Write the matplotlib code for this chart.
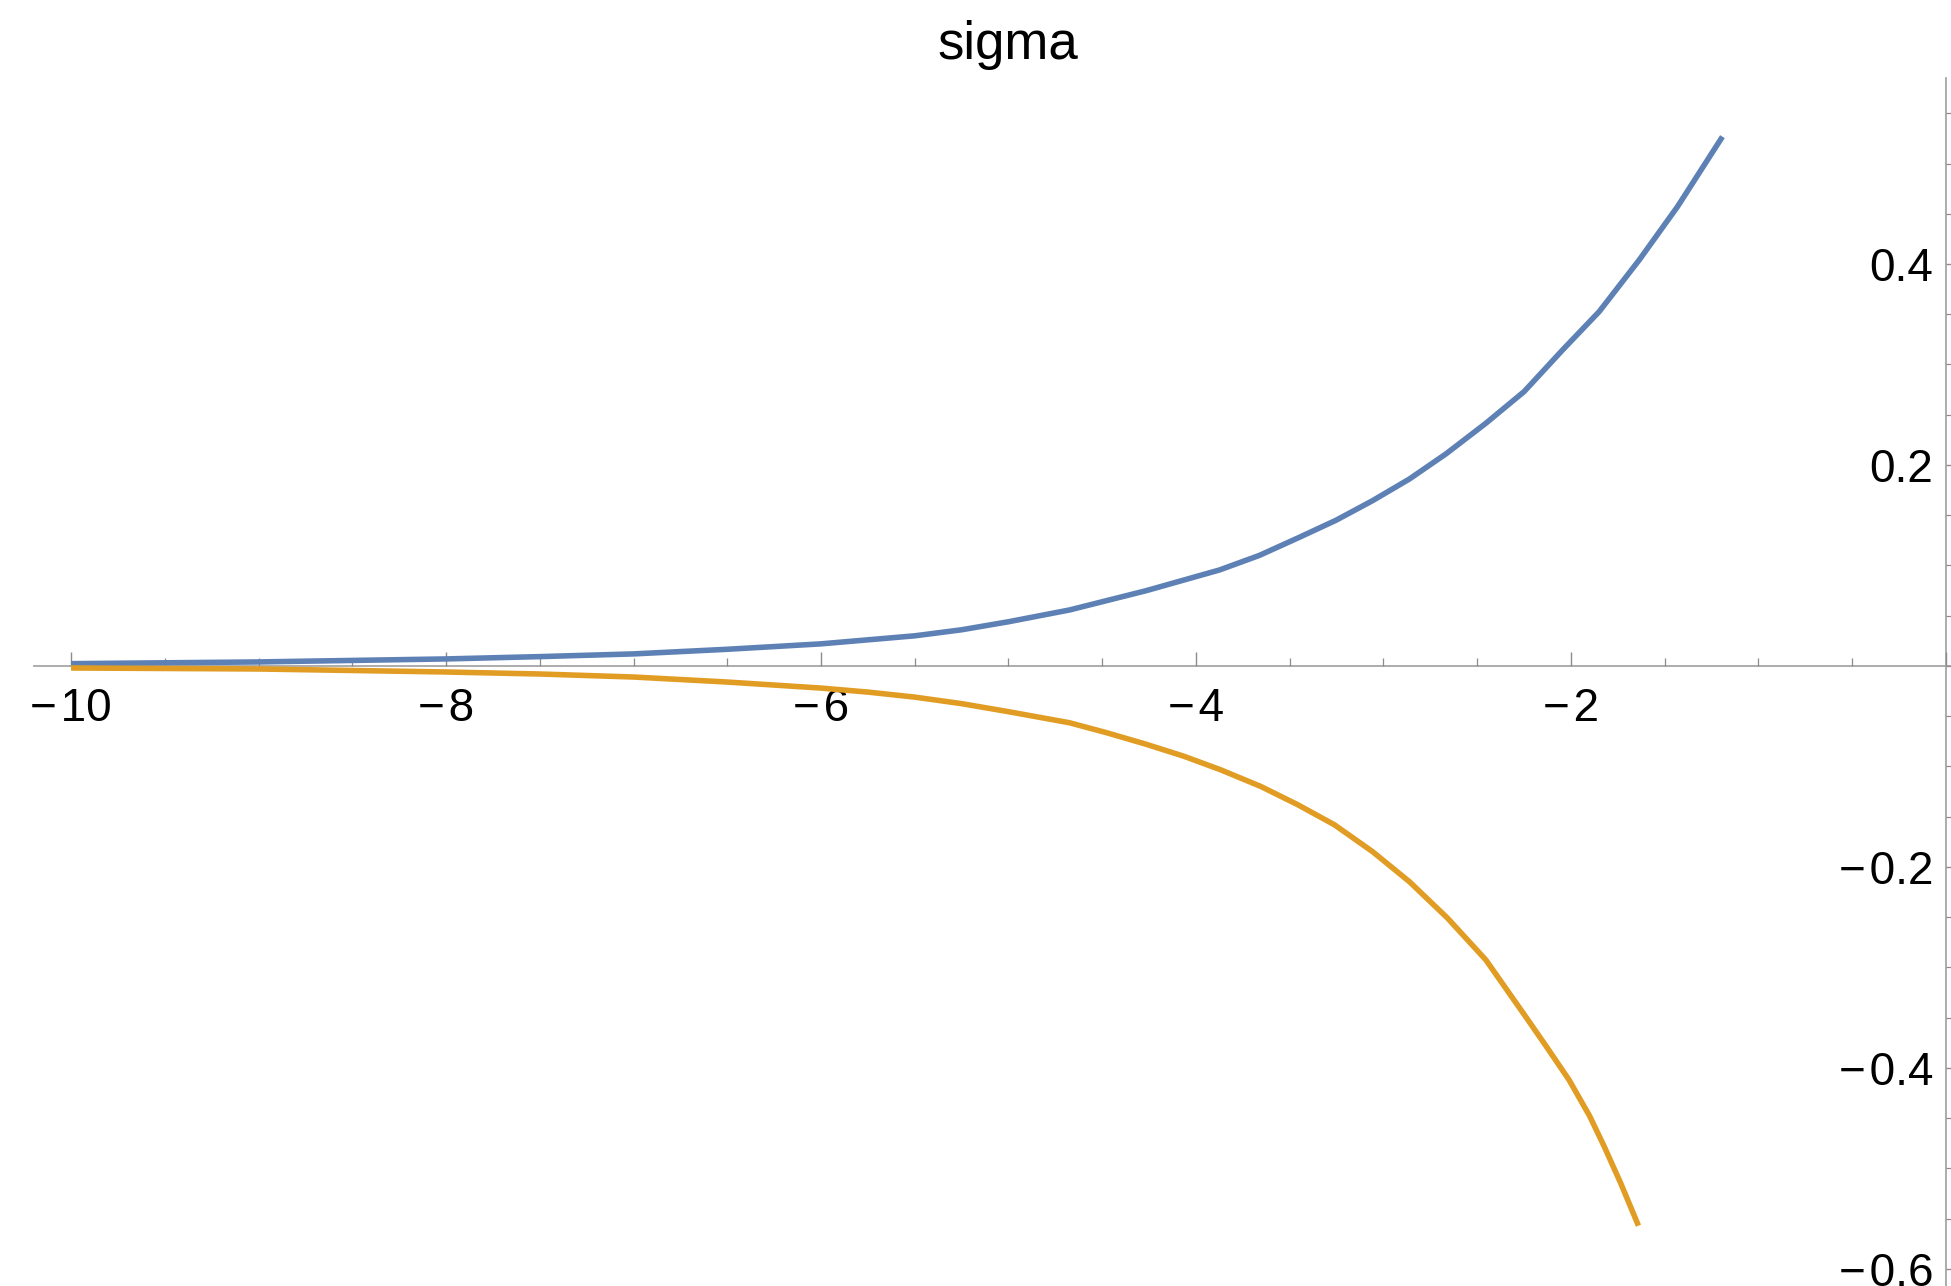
import matplotlib
matplotlib.use("Agg")
import matplotlib.pyplot as plt
import numpy as np
from matplotlib.ticker import FixedLocator, FixedFormatter

plt.rcParams["font.family"] = ["Liberation Sans", "DejaVu Sans"]

# sampled branches of sigma
blue_x = [-10, -9, -8, -7.5, -7, -6.5, -6, -5.75, -5.5, -5.25, -5, -4.675, -4.266,
          -3.875, -3.662, -3.449, -3.253, -3.058, -2.862, -2.667, -2.454, -2.25,
          -2.045, -1.85, -1.636, -1.432, -1.192]
blue_y = [0.0023, 0.004, 0.007, 0.0093, 0.012, 0.0166, 0.022, 0.026, 0.030, 0.036,
          0.044, 0.0557, 0.0749, 0.0955, 0.110, 0.128, 0.145, 0.1645, 0.186, 0.211,
          0.2415, 0.273, 0.3144, 0.3525, 0.404, 0.457, 0.5267]

orange_x = [-10, -9, -8, -7.5, -7, -6.5, -6, -5.75, -5.5, -5.25, -5, -4.675, -4.479,
            -4.266, -4.062, -3.866, -3.653, -3.458, -3.262, -3.058, -2.862, -2.658,
            -2.454, -2.249, -2.13, -2.01, -1.9, -1.823, -1.734, -1.640]
orange_y = [-0.002, -0.003, -0.006, -0.008, -0.011, -0.016, -0.022, -0.026, -0.031,
            -0.0375, -0.0455, -0.0565, -0.0663, -0.0779, -0.090, -0.1035, -0.120,
            -0.138, -0.158, -0.1848, -0.2146, -0.251, -0.2925, -0.347, -0.379,
            -0.412, -0.448, -0.478, -0.515, -0.557]

x_major = [-10, -8, -6, -4, -2, 0]
x_labels = ["\u2212\u200a10", "\u2212\u200a8", "\u2212\u200a6", "\u2212\u200a4",
            "\u2212\u200a2", ""]
y_major = [-0.6, -0.4, -0.2, 0.2, 0.4]
y_labels = ["\u2212\u200a0.6", "\u2212\u200a0.4", "\u2212\u200a0.2", "0.2", "0.4"]

BLUE = "#5E81B5"
ORANGE = "#E19C24"
AXIS = "#a6a6a6"
TICK = "#8c8c8c"

fig = plt.figure(figsize=(19.51, 12.86), dpi=100)
ax = fig.add_axes([0, 0, 1, 1])
ax.set_xlim(-10.379, 0.027)
ax.set_ylim(-0.617, 0.6627)

ax.plot(blue_x, blue_y, color=BLUE, lw=4, solid_capstyle="butt",
        solid_joinstyle="round", zorder=3)
ax.plot(orange_x, orange_y, color=ORANGE, lw=4, solid_capstyle="butt",
        solid_joinstyle="round", zorder=3)

# axes cross at the origin
for s in ("top", "right"):
    ax.spines[s].set_visible(False)
ax.spines["left"].set_position(("data", 0))
ax.spines["bottom"].set_position(("data", 0))
ax.spines["left"].set_bounds(-0.617, 0.585)
ax.spines["bottom"].set_bounds(-10.2, 0.027)
for s in ("left", "bottom"):
    ax.spines[s].set_color(AXIS)
    ax.spines[s].set_linewidth(1.3)
    ax.spines[s].set_zorder(1)

ax.xaxis.set_major_locator(FixedLocator(x_major))
ax.xaxis.set_major_formatter(FixedFormatter(x_labels))
ax.xaxis.set_minor_locator(FixedLocator(np.arange(-10, 0.01, 0.5)))
ax.yaxis.set_major_locator(FixedLocator(y_major))
ax.yaxis.set_major_formatter(FixedFormatter(y_labels))
ax.yaxis.set_minor_locator(FixedLocator(np.arange(-0.6, 0.56, 0.05)))

ax.tick_params(axis="x", which="major", direction="in", length=10, width=1.0,
               color=TICK, labelsize=33, pad=15)
ax.tick_params(axis="x", which="minor", direction="in", length=5.5, width=0.9,
               color=TICK)
ax.tick_params(axis="y", which="major", direction="in", length=6, width=1.0,
               color=TICK, labelsize=33, pad=9)
ax.tick_params(axis="y", which="minor", direction="in", length=4, width=0.9,
               color=TICK)

fig.text(1008 / 1951, 1 - 59 / 1286, "sigma", ha="center", va="baseline",
         fontsize=38)

fig.savefig("out.png", dpi=100)
